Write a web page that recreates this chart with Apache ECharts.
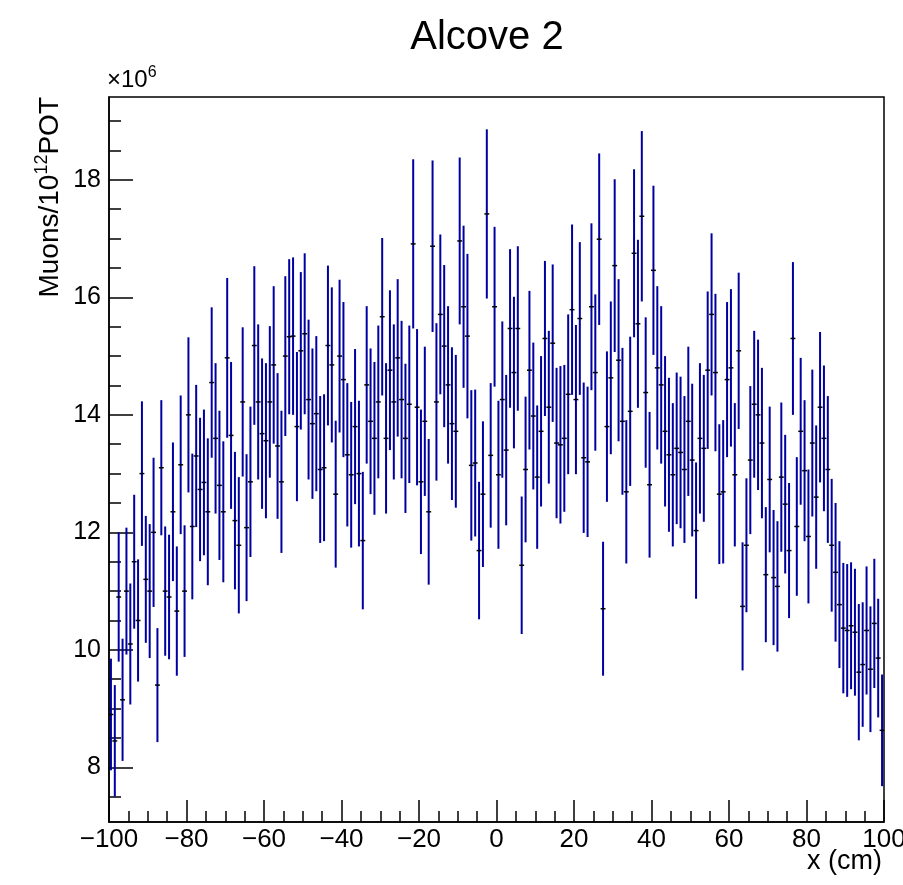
<!DOCTYPE html>
<html>
<head>
<meta charset="utf-8">
<script src="https://cdn.jsdelivr.net/npm/echarts@6/dist/echarts.min.js"></script>
<style>
html,body{margin:0;padding:0;background:#fff;}
#chart{width:903px;height:885px;}
</style>
</head>
<body>
<div id="chart"></div>
<script>
// Histogram: 200 bins of 1 cm from -100 to 100
const binLow = -100;
const binWidth = 1;

// Bin contents (x 10^6 muons / 10^12 POT)
const values = [
 8.9, 8.45, 10.9, 9.15, 11.0, 10.1, 11.5, 10.5, 13.0, 11.2,
 11.0, 12.0, 9.4, 13.1, 11.0, 10.9, 12.35, 10.66, 13.15, 11.0,
 14.0, 12.1, 13.3, 12.73, 12.85, 12.35, 14.55, 13.6, 12.8, 12.35,
 14.97, 13.65, 12.2, 11.78, 14.22, 12.08, 12.86, 15.18, 14.22, 13.68,
 13.56, 14.22, 14.85, 13.47, 12.86, 15.0, 15.33, 15.34, 13.8, 15.09,
 15.38, 14.26, 13.85, 14.02, 13.07, 13.1, 15.18, 14.85, 12.65, 15.0,
 14.6, 13.32, 12.98, 13.8, 13.0, 11.86, 14.51, 13.89, 13.6, 14.22,
 15.67, 13.6, 14.76, 14.22, 14.97, 14.26, 13.6, 14.18, 16.91, 14.13,
 12.86, 13.89, 12.35, 16.87, 14.22, 15.71, 15.17, 14.51, 13.85, 13.72,
 16.96, 15.84, 15.34, 13.14, 13.18, 11.69, 12.65, 17.42, 13.31, 15.84,
 12.98, 14.26, 13.4, 15.47, 14.72, 15.47, 11.44, 13.07, 14.76, 13.98,
 12.94, 13.72, 15.3, 14.13, 15.22, 13.52, 13.49, 13.6, 14.35, 15.79,
 14.26, 15.64, 13.27, 13.2, 15.84, 14.72, 16.99, 10.7, 13.8, 14.63,
 16.54, 14.93, 13.89, 12.69, 14.06, 16.75, 15.55, 17.38, 14.38, 12.81,
 16.46, 14.8, 14.51, 13.72, 13.32, 12.98, 13.43, 13.36, 13.07, 13.89,
 13.23, 12.03, 13.6, 13.43, 14.76, 15.71, 14.72, 12.65, 12.69, 14.6,
 14.8, 12.98, 15.09, 10.74, 11.78, 13.23, 14.18, 14.0, 13.52, 11.28,
 12.9, 11.23, 11.08, 12.94, 12.48, 11.69, 15.3, 12.1, 13.72, 13.05,
 11.93, 13.52, 12.6, 14.13, 13.6, 13.07, 11.78, 11.32, 10.77, 10.37,
 10.33, 10.41, 10.3, 9.62, 9.75, 10.33, 9.67, 10.45, 9.86, 8.63
];

// Bin errors (same units)
const errors = [
 0.95, 0.95, 1.10, 1.04, 1.08, 1.03, 1.14, 1.04, 1.23, 1.08,
 1.14, 1.27, 0.97, 1.15, 1.10, 1.06, 1.18, 1.10, 1.18, 1.12,
 1.32, 1.24, 1.21, 1.22, 1.24, 1.25, 1.28, 1.28, 1.27, 1.20,
 1.36, 1.25, 1.17, 1.16, 1.27, 1.25, 1.28, 1.35, 1.32, 1.28,
 1.32, 1.29, 1.34, 1.24, 1.21, 1.36, 1.32, 1.34, 1.27, 1.34,
 1.37, 1.36, 1.28, 1.32, 1.25, 1.25, 1.36, 1.32, 1.25, 1.30,
 1.32, 1.22, 1.24, 1.32, 1.24, 1.17, 1.34, 1.24, 1.30, 1.30,
 1.34, 1.28, 1.36, 1.32, 1.34, 1.34, 1.27, 1.34, 1.44, 1.33,
 1.23, 1.27, 1.24, 1.46, 1.34, 1.36, 1.38, 1.34, 1.30, 1.30,
 1.42, 1.38, 1.40, 1.28, 1.25, 1.17, 1.24, 1.44, 1.23, 1.36,
 1.26, 1.33, 1.28, 1.35, 1.29, 1.40, 1.17, 1.24, 1.35, 1.25,
 1.22, 1.28, 1.32, 1.30, 1.34, 1.28, 1.34, 1.25, 1.36, 1.45,
 1.27, 1.30, 1.28, 1.28, 1.42, 1.33, 1.46, 1.14, 1.28, 1.30,
 1.47, 1.38, 1.25, 1.22, 1.27, 1.43, 1.43, 1.45, 1.28, 1.24,
 1.44, 1.39, 1.34, 1.28, 1.31, 1.22, 1.29, 1.29, 1.25, 1.27,
 1.30, 1.16, 1.28, 1.25, 1.34, 1.38, 1.34, 1.19, 1.22, 1.32,
 1.34, 1.22, 1.33, 1.09, 1.14, 1.26, 1.25, 1.28, 1.28, 1.15,
 1.24, 1.15, 1.11, 1.27, 1.18, 1.15, 1.30, 1.18, 1.25, 1.20,
 1.14, 1.25, 1.22, 1.28, 1.24, 1.25, 1.13, 1.18, 1.08, 1.11,
 1.13, 1.08, 1.08, 1.16, 1.06, 1.09, 1.07, 1.10, 1.01, 0.95
];

// Axis ranges and ticks
const xMin = -100, xMax = 100, xStep = 20;
const yMin = 7.07, yMax = 19.41;
const yMajorTicks = [8, 10, 12, 14, 16, 18];
const yMinorTicks = [7.5, 8.5, 9, 9.5, 10.5, 11, 11.5, 12.5, 13, 13.5, 14.5, 15, 15.5, 16.5, 17, 17.5, 18.5, 19];

const FONT = '"Liberation Sans", Helvetica, Arial, sans-serif';

const data = values.map((v, i) => [binLow + (i + 0.5) * binWidth, v, errors[i]]);

const chart = echarts.init(document.getElementById('chart'), null, {renderer: 'canvas'});

const option = {
  backgroundColor: '#ffffff',
  animation: false,
  grid: {
    left: 109, right: 19, top: 97, bottom: 63,
    outerBoundsMode: 'none', containLabel: false,
    show: true, borderColor: '#000', borderWidth: 1.5, backgroundColor: 'transparent'
  },
  xAxis: {
    type: 'value', min: xMin, max: xMax, interval: xStep,
    axisLine: {show: true, onZero: false, lineStyle: {color: '#000', width: 1.5}},
    axisTick: {show: true, inside: true, length: 22, lineStyle: {color: '#000', width: 1.5}},
    minorTick: {show: true, splitNumber: 4, length: 11, lineStyle: {color: '#000', width: 1.5}},
    splitLine: {show: false},
    axisLabel: {
      color: '#000', fontFamily: FONT, fontSize: 26, margin: 5,
      formatter: v => (v < 0 ? '\u2212' + Math.abs(v) : String(v))
    }
  },
  yAxis: [
    {
      type: 'value', min: yMin, max: yMax,
      axisLine: {show: true, onZero: false, lineStyle: {color: '#000', width: 1.5}},
      axisTick: {show: true, inside: true, length: 24, customValues: yMajorTicks, lineStyle: {color: '#000', width: 1.5}},
      splitLine: {show: false},
      axisLabel: {
        color: '#000', fontFamily: FONT, fontSize: 25, margin: 8,
        customValues: yMajorTicks, showMinLabel: true, showMaxLabel: true
      }
    },
    {
      type: 'value', min: yMin, max: yMax, position: 'left', offset: 0,
      axisLine: {show: false, onZero: false},
      axisTick: {show: true, inside: true, length: 12, customValues: yMinorTicks, lineStyle: {color: '#000', width: 1.5}},
      splitLine: {show: false},
      axisLabel: {show: false}
    }
  ],
  graphic: [
    {
      type: 'text', x: 487, y: 18,
      style: {text: 'Alcove 2', font: '40px ' + FONT, fill: '#000', align: 'center', verticalAlign: 'top'}
    },
    {
      type: 'text', x: 107, y: 96,
      style: {
        text: '\u00d710{sup|6}', fill: '#000', font: '24px ' + FONT,
        verticalAlign: 'bottom', align: 'left',
        rich: {sup: {fontSize: 16, fontFamily: FONT, padding: [0, 0, 15, 0], fill: '#000'}}
      }
    },
    {
      type: 'text', x: 50, y: 97, rotation: Math.PI / 2,
      style: {
        text: 'Muons/10{sup|12}POT', fill: '#000', font: '28px ' + FONT,
        align: 'right', verticalAlign: 'middle',
        rich: {sup: {fontSize: 18, fontFamily: FONT, padding: [0, 0, 15, 0], fill: '#000'}}
      }
    },
    {
      type: 'text', x: 882, y: 848,
      style: {text: 'x (cm)', font: '27px ' + FONT, fill: '#000', align: 'right', verticalAlign: 'top'}
    }
  ],
  series: [
    {
      type: 'custom',
      clip: true,
      data: data,
      encode: {x: 0, y: 1},
      renderItem: function (params, api) {
        const x = api.value(0), y = api.value(1), e = api.value(2);
        const top = api.coord([x, y + e]);
        const bot = api.coord([x, y - e]);
        const l = api.coord([x - binWidth / 2, y]);
        const r = api.coord([x + binWidth / 2, y]);
        return {
          type: 'group',
          children: [
            {type: 'line', shape: {x1: top[0], y1: top[1], x2: bot[0], y2: bot[1]},
             style: {stroke: '#0000a0', lineWidth: 2}},
            {type: 'line', shape: {x1: l[0] - 0.5, y1: l[1], x2: r[0] + 0.5, y2: r[1]},
             style: {stroke: '#000', lineWidth: 1.5}}
          ]
        };
      }
    }
  ]
};

chart.setOption(option);
</script>
</body>
</html>
